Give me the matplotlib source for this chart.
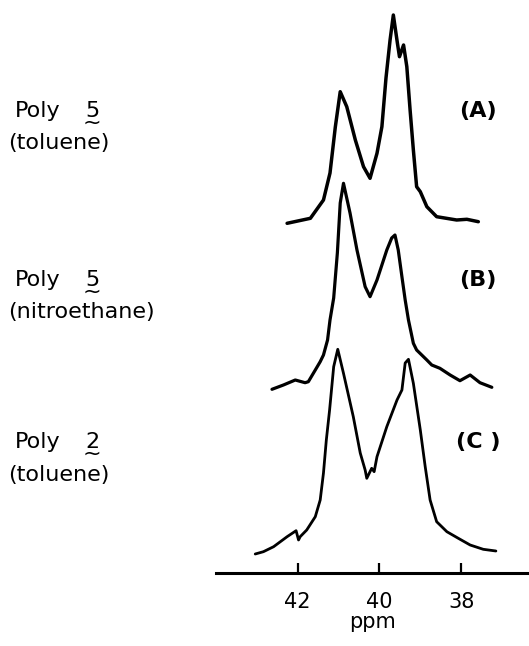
import matplotlib
matplotlib.use("Agg")
import matplotlib.pyplot as plt

# ---- data (ppm, relative intensity) ----
ppm_A = [42.26, 41.69, 41.37, 41.21, 41.08, 40.96, 40.80, 40.59, 40.39, 40.23,
         40.06, 39.94, 39.84, 39.74, 39.66, 39.56, 39.51, 39.41, 39.33, 39.25,
         39.17, 39.09, 39.00, 38.84, 38.60, 38.11, 37.86, 37.58]
int_A = [-3.3, 1.7, 20, 47, 93, 128.3, 113.3, 80, 53.3, 41.7,
         66.7, 93.3, 142, 180, 205, 176.7, 163.3, 175, 153.3, 110,
         70, 33.3, 28.3, 13.3, 3.3, 0, 0.7, -1.7]

ppm_B = [42.63, 42.35, 42.06, 41.82, 41.74, 41.57, 41.45, 41.37, 41.27, 41.21,
         41.12, 41.03, 40.96, 40.88, 40.72, 40.55, 40.35, 40.23, 40.06, 39.82,
         39.70, 39.62, 39.54, 39.45, 39.37, 39.29, 39.17, 39.09, 38.84, 38.72,
         38.52, 38.27, 38.03, 37.78, 37.54, 37.25]
int_B = [-1.3, 3, 8, 5.3, 6.3, 18, 26.3, 33, 48, 68,
         90, 135, 185, 204.7, 175, 138, 101.3, 91.3, 108, 138,
         150, 153, 138, 111.3, 88, 68, 44.7, 38, 28, 23,
         19.7, 13, 7.3, 13, 5.3, 0.7]

ppm_C = [43.04, 42.84, 42.59, 42.26, 42.04, 41.98, 41.94, 41.78, 41.57, 41.45,
         41.37, 41.30, 41.22, 41.12, 41.02, 40.88, 40.64, 40.47, 40.35, 40.31,
         40.19, 40.13, 40.06, 39.82, 39.57, 39.45, 39.37, 39.29, 39.17, 39.00,
         38.88, 38.76, 38.60, 38.35, 38.07, 37.78, 37.46, 37.15]
int_C = [-1, 1.3, 6.3, 16.3, 22.3, 13, 16.3, 23, 36.3, 53,
         80, 113, 143, 186.3, 203.7, 179.7, 136.3, 100, 83, 74.7,
         84.7, 81.3, 96.3, 126.3, 153, 163, 190, 193.7, 169.7, 123,
         86.3, 53, 31.3, 21.3, 14.7, 8, 3.7, 2]

tick_values = [42, 40, 38]
tick_labels = ["42", "40", "38"]
panel_tags = ["(A)", "(B)", "(C )"]
sample_names = ["Poly", "Poly", "Poly"]
sample_numbers = ["5", "5", "2"]
solvents = ["(toluene)", "(nitroethane)", "(toluene)"]

# ---- figure ----
W, H = 529, 646
fig = plt.figure(figsize=(W / 100, H / 100), dpi=100)
ax = fig.add_axes([216 / W, (H - 573) / H, (W - 216) / W, 573 / H])
ax.set_xlim(44.0, 36.34)
ax.set_ylim(0, 573)

offsets = [353, 185, 20]
series = [(ppm_A, int_A, 2.5), (ppm_B, int_B, 2.3), (ppm_C, int_C, 2.0)]
for (p, i, lw), off in zip(series, offsets):
    ax.plot(p, [v + off for v in i], color="black", lw=lw,
            solid_joinstyle="round", solid_capstyle="round")

for s in ["left", "top", "right"]:
    ax.spines[s].set_visible(False)
ax.spines["bottom"].set_linewidth(2.2)
ax.set_yticks([])
ax.set_xticks(tick_values)
ax.set_xticklabels(tick_labels, fontsize=15, fontweight="medium")
ax.tick_params(axis="x", direction="in", length=7, width=1.6, pad=14)
ax.set_xlabel("ppm", fontsize=15, labelpad=0, fontweight="medium")

# ---- left labels ----
name_y = [111, 280, 442]
solv_y = [143, 312, 475]
for k in range(3):
    fig.text(15 / W, 1 - name_y[k] / H, sample_names[k], fontsize=16,
             ha="left", va="center")
    fig.text(92 / W, 1 - (name_y[k] - 10) / H, sample_numbers[k] + "\n~",
             fontsize=16, ha="center", va="top", multialignment="center",
             linespacing=0.5)
    fig.text(8 / W, 1 - solv_y[k] / H, solvents[k], fontsize=16,
             ha="left", va="center")
    fig.text(478 / W, 1 - name_y[k] / H, panel_tags[k], fontsize=16,
             ha="center", va="center", fontweight="bold")

fig.savefig("out.png", dpi=100)
